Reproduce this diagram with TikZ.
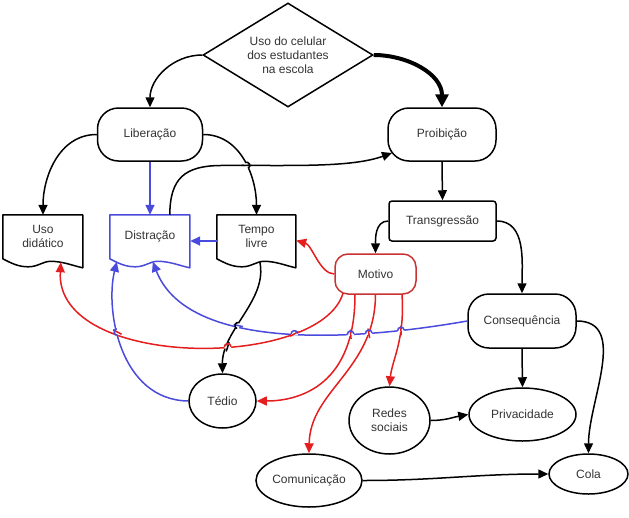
\documentclass[tikz,border=0pt]{standalone}
\usepackage{fontspec}
\setmainfont{Liberation Sans}
\usetikzlibrary{shapes.geometric,arrows.meta,calc,intersections}
\definecolor{txt}{HTML}{333333}
\definecolor{myred}{HTML}{E41E1E}
\definecolor{mvred}{HTML}{C83232}
\definecolor{myblue}{HTML}{4A4ADC}
\newcommand\docoutline[3]{%
  \begin{scope}[shift={(#1.north west)}]
    \draw[line width=1.5pt, #3, line join=round] (0,44) -- (0,0) -- (#2,0) -- (#2,53)
      .. controls ({0.88*#2},51) and ({0.75*#2},46.5) .. ({0.6*#2},46.5)
      .. controls ({0.5*#2},46.5) and ({0.44*#2},52) .. ({0.32*#2},52)
      .. controls ({0.2*#2},52) and ({0.12*#2},49) .. (0,44) -- cycle;
  \end{scope}}
% #1 crossing point, #2 angle of hopping line, #3 its colour, #4 angle of crossed line, #5 its colour
\newcommand\hop[5]{%
  \begin{scope}[shift={(#1)}, rotate=#2, x=1pt, y=1pt]
    \fill[white] (-3.3,-1.5) rectangle (3.3,1.5);
    \draw[#5, line width=1.5pt] ({#4-#2}:4.8) -- ({#4-#2+180}:4.8);
    \draw[#3, line width=1.5pt] (-3.3,0) arc[start angle=180, end angle=0, radius=3.3];
  \end{scope}}
\begin{document}
\begin{tikzpicture}[x=1pt,y=-1pt,
  every node/.style={font=\fontsize{12}{14}\selectfont, text=txt, align=center, inner sep=0pt},
  box/.style={draw, line width=1.5pt, rounded corners=#1},
  box/.default=21pt,
  ell/.style={draw, ellipse, line width=1.5pt},
  docnode/.style={minimum height=43pt},
  edge/.style={line width=1.5pt, -{Triangle[length=10pt,width=9pt]}},
  redge/.style={edge, myred},
  bedge/.style={edge, myblue},
]
\useasboundingbox (0,0) rectangle (629,517);

% nodes
\node[draw, diamond, line width=1.5pt, aspect=1.63, minimum width=170pt, minimum height=104pt] (q) at (288,55)
  {Uso do celular\\dos estudantes\\na escola};
\node[box, minimum width=105pt, minimum height=53pt] (lib) at (150,134.5) {Liberação};
\node[box, minimum width=108pt, minimum height=53pt] (proi) at (442,134.5) {Proibição};
\node[box=3pt, minimum width=107pt, minimum height=40pt] (trans) at (442.5,221) {Transgressão};
\node[box=13pt, draw=mvred, minimum width=81pt, minimum height=40pt] (motivo) at (375.5,274) {Motivo};
\node[docnode, minimum width=80pt] (uso) at (43,236.5) {Uso\\didático};
\node[docnode, minimum width=80pt] (dist) at (150,236.5) {Distração};
\node[docnode, minimum width=79pt] (tempo) at (256.5,236.5) {Tempo\\livre};
\node[box, minimum width=108pt, minimum height=54pt] (cons) at (522,321) {Consequência};
\node[ell, minimum width=107pt, minimum height=53pt] (priv) at (522.5,414.5) {Privacidade};
\node[ell, minimum width=81pt, minimum height=67pt] (redes) at (389.5,420.5) {Redes\\sociais};
\node[ell, minimum width=79pt, minimum height=40pt] (cola) at (588.5,474) {Cola};
\node[ell, minimum width=106pt, minimum height=53pt] (com) at (309,480.5) {Comunicação};
\node[ell, minimum width=67pt, minimum height=54pt] (tedio) at (222.5,401) {Tédio};

\docoutline{uso}{80}{black}
\docoutline{dist}{80}{myblue}
\docoutline{tempo}{79}{black}

% helper coordinates
\coordinate (usoB) at ($(uso.north west)+(58,47.5)$);
\coordinate (distB1) at ($(dist.north west)+(7,47)$);
\coordinate (distB2) at ($(dist.north west)+(43,47)$);
\coordinate (distT) at ($(dist.north west)+(60,0)$);
\coordinate (tempoB) at ($(tempo.north west)+(43,47)$);
\coordinate (proiIn) at (392,153);
\coordinate (mv1) at ($(motivo.south)+(-32.5,-1.5)$);
\coordinate (mv2) at ($(motivo.south)+(-20.5,0)$);
\coordinate (mv3) at ($(motivo.south)+(0,0)$);
\coordinate (mv4) at ($(motivo.south)+(26.5,0)$);

% black edges
\draw[edge] (q.west) to[out=180,in=90] (lib.north);
\draw[line width=4pt, -{Triangle[length=13pt,width=13pt]}] (q.east) to[out=0,in=90] (proi.north);
\draw[edge] (lib.west) to[out=180,in=90] (uso.north);
\draw[bedge] (lib.south) -- (dist.north);
\draw[edge, name path=lt] (lib.east) to[out=0,in=90] (tempo.north);
\draw[edge, name path=dp] (distT) .. controls (170,178) and (185,166) .. (220,165.5)
  .. controls (290,165) and (350,168) .. (proiIn);
\draw[bedge] ([yshift=-4.5pt]tempo.west) -- ([yshift=-4.5pt]dist.east);
\draw[edge] (proi.south) -- (trans.north);
\draw[edge] (trans.west) to[out=180,in=90] (motivo.north);
\draw[edge] (trans.east) to[out=0,in=90] (cons.north);
\draw[edge] (cons.south) -- (priv.north);
\draw[edge] (cons.east) to[out=0,in=90] (cola.north);
\draw[edge] (redes.east) to[out=0,in=190] (priv.west);
\draw[edge] (com.east) to[out=0,in=180] (cola.west);
\draw[edge, name path=k1] (tempoB) .. controls (268,300) and (222,330) .. (tedio.north);

% blue edges
\draw[bedge, name path=bc] (cons.west) .. controls (330,345) and (185,345) .. (distB2);
\draw[bedge, name path=bt] (tedio.west) .. controls (120,400) and (105,310) .. (distB1);

% red edges
\draw[redge] (motivo.west) .. controls (320,274) and (312,245) .. ([yshift=-4pt]tempo.east);
\draw[redge, name path=r1] (mv1) .. controls (320,370) and (55,370) .. (usoB);
\draw[redge, name path=r2] (mv2) .. controls (355,385) and (300,401) .. (tedio.east);
\draw[redge, name path=r3] (mv3) .. controls (375,370) and (310,390) .. (com.north);
\draw[redge, name path=r4] (mv4) .. controls (405,340) and (392,360) .. (redes.north);

% line hops at crossings
\path[name intersections={of=lt and dp, by=h1}];
\path[name intersections={of=bc and r1, by=h2}];
\path[name intersections={of=bc and r2, by=h3}];
\path[name intersections={of=bc and r3, by=h4}];
\path[name intersections={of=bc and r4, by=h5}];
\path[name intersections={of=k1 and bc, by=h6}];
\path[name intersections={of=r1 and k1, by=h7}];
\path[name intersections={of=bt and r1, by=h8}];
\hop{h1}{-62}{black}{0}{black}
\hop{h2}{7}{myblue}{30}{myred}
\hop{h3}{7}{myblue}{95}{myred}
\hop{h4}{7}{myblue}{100}{myred}
\hop{h5}{5}{myblue}{93}{myred}
\hop{h6}{67}{black}{-12}{myblue}
\hop{h7}{5}{myred}{72}{black}
\hop{h8}{100}{myblue}{-28}{myred}
\end{tikzpicture}
\end{document}
